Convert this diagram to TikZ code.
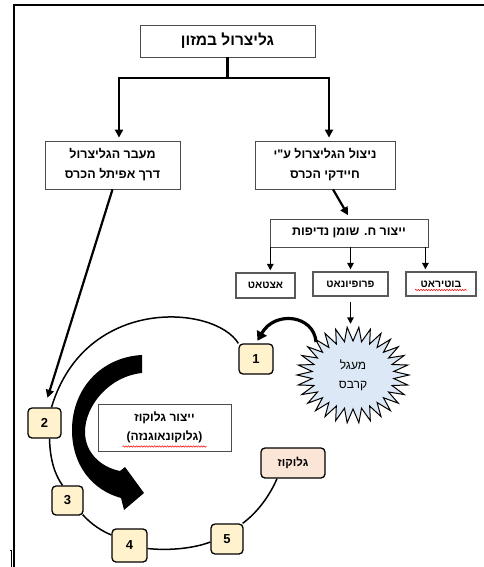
\documentclass[tikz,border=0pt]{standalone}
\usepackage{fontspec}
\setmainfont{Liberation Sans}
\newfontfamily\heb[Script=Hebrew]{Liberation Sans}
\newfontfamily\latn{Liberation Sans}
\TeXXeTstate=1
\usetikzlibrary{arrows.meta,calc,decorations.pathmorphing}
\newcommand\hb[1]{\beginR#1\endR}
\definecolor{ybox}{HTML}{FFF2CC}
\definecolor{pbox}{HTML}{FBE5D6}
\definecolor{sblue}{HTML}{DCE8F5}
\begin{document}
\begin{tikzpicture}[x=1pt,y=-1pt,
  tbox/.style={draw=black!70,line width=0.8pt,fill=white,inner sep=0pt,align=center,text=black},
  sbox/.style={draw=black!65,line width=1.3pt,fill=white,inner sep=0pt,align=center,font=\heb\bfseries\fontsize{10.5}{12}\selectfont},
  rbox/.style={draw=black,line width=1.3pt,rounded corners=4pt,fill=ybox,inner sep=0pt,font=\bfseries\fontsize{13}{15}\selectfont},
  arrA/.style={line width=2.2pt,-{Triangle[length=8pt,width=8pt]}},
  arrB/.style={line width=1.4pt,-{Triangle[length=6.5pt,width=6.5pt]}},
  ring/.style={line width=1.5pt},
  wavy/.style={red,line width=0.5pt,decorate,decoration={snake,amplitude=0.7pt,segment length=2.6pt}}]
\useasboundingbox (0,0) rectangle (484,567);
\fill[white] (0,0) rectangle (484,567);
% frame
\draw[line width=2pt] (14,567) -- (14,5) -- (484,5);
\draw[line width=0.7pt] (10,550.5) -- (11.5,550.5) -- (11.5,567);

% top tree
\node[tbox,minimum width=175,minimum height=32,font=\heb\bfseries\fontsize{15.5}{18}\selectfont] (top) at (227.5,41) {\hb{גליצרול במזון}};
\node[tbox,minimum width=135,minimum height=48,font=\heb\bfseries\fontsize{12.5}{20}\selectfont] (lbox) at (112.5,165) {\hb{מעבר הגליצרול}\\\hb{דרך אפיתל הכרס}};
\node[tbox,minimum width=140,minimum height=48,font=\heb\bfseries\fontsize{12.5}{20}\selectfont] (rbox) at (325,165) {\hb{ניצול הגליצרול ע"י}\\\hb{חיידקי הכרס}};
\coordinate (j) at (227.5,78);
\draw[line width=2.2pt] (top.south) -- (j);
\draw[arrA,shorten >=3pt] (j) -| ([xshift=6.5pt]lbox.north);
\draw[arrA,shorten >=3pt] (j) -| ([xshift=4pt]rbox.north);

% VFA
\node[tbox,minimum width=158,minimum height=28,font=\heb\bfseries\fontsize{12.5}{15}\selectfont] (vfa) at (349,233) {\hb{ייצור ח\kern0pt. שומן נדיפות}};
\draw[arrA,shorten >=4pt] ([xshift=8pt]rbox.south) -- ([xshift=1pt]vfa.north);
\node[sbox,minimum width=59,minimum height=25] (ace) at (265.5,285.5) {אצטאט};
\node[sbox,minimum width=75,minimum height=24] (prop) at (350.5,284) {פרופיונאט};
\node[sbox,minimum width=70,minimum height=24] (but) at (441,284) {בוטיראט};
\draw[wavy] ($(but.center)+(-26,6)$) -- ($(but.center)+(26,6)$);
\draw[arrB,shorten >=2pt] ([xshift=0.7pt]vfa.south west) -- ([xshift=0.7pt]vfa.south west |- ace.north);
\draw[arrB,shorten >=2pt] (vfa.south -| prop.north) -- (prop.north);
\draw[arrB,shorten >=2pt] ([xshift=-3pt]vfa.south east) -- ([xshift=-3pt]vfa.south east |- but.north);

% Krebs starburst
\fill[sblue,draw=black,line width=1pt] plot[samples=61,domain=0:360,variable=\t]
  ({353+(mod(round(\t/6),2)==0 ? 56 : 41)*cos(\t)},{375+(mod(round(\t/6),2)==0 ? 48 : 34)*sin(\t)}) -- cycle;
\node[inner sep=0pt,minimum width=100,minimum height=96,align=center,font=\heb\fontsize{12}{19}\selectfont] (krebs) at (353,375) {מעגל\\קרבס};
\draw[arrB,shorten <=5pt,shorten >=3pt] (prop.south) -- (prop.south |- krebs.north);

% ring boxes
\node[rbox,minimum width=34,minimum height=30] (b1) at (256,359) {1};
\node[rbox,minimum width=33,minimum height=30] (b2) at (44.5,423) {2};
\node[rbox,minimum width=31,minimum height=29] (b3) at (67.5,500.5) {3};
\node[rbox,minimum width=35,minimum height=33] (b4) at (129.5,545.5) {4};
\node[rbox,minimum width=32,minimum height=30] (b5) at (227,539) {5};
\node[rbox,fill=pbox,minimum width=64,minimum height=30,font=\heb\bfseries\fontsize{11.5}{14}\selectfont] (glu) at (293,463) {גלוקוז};

% ring
\draw[ring] (b1.north west) .. controls (215,305) and (85,295) .. ([xshift=7pt]b2.north);
\draw[ring] ([xshift=5pt]b2.south) .. controls (50,460) and (55,475) .. ([xshift=-5pt]b3.north);
\draw[ring] ([xshift=-1pt,yshift=1pt]b3.south east) .. controls (92,525) and (102,531) .. ([yshift=10.5pt]b4.west);
\draw[ring] ([yshift=-3pt]b4.east) .. controls (170,551) and (195,548) .. ([yshift=-3pt]b5.west);
\draw[ring] ([xshift=-1pt]b5.north east) .. controls (258,512) and (270,495) .. ([xshift=-16pt]glu.south);

% arrow from left box to ring
\draw[arrA,shorten >=10pt] (lbox.south) -- (b2.north);

% curved arrow from Krebs to box 1
\draw[line width=3.2pt,-{Triangle[length=9pt,width=11pt]},shorten >=3pt] ($(krebs.center)+(-37,-33)$) .. controls (314,315) and (275,310) .. (b1.north);

% gluconeogenesis box and big arrow
\node[tbox,minimum width=133,minimum height=47,font=\heb\bfseries\fontsize{12}{19}\selectfont] (gng) at (164.5,427.5) {\hb{ייצור גלוקוז}\\{\latn\bfseries(}\kern0pt גלוקונאוגנזה\kern0pt{\latn\bfseries)}};
\draw[wavy] ($(gng.center)+(-42,19)$) -- ($(gng.center)+(42,19)$);
\fill[black] (142,355) -- (142,373) .. controls (110,376) and (85,405) .. (85,432) .. controls (85,452) and (100,467) .. (120,471) -- (125,467) -- (144,493) -- (124,510) -- (121,498) .. controls (92,490) and (72,465) .. (72,430) .. controls (72,388) and (102,357) .. (142,355) -- cycle;
\end{tikzpicture}
\end{document}
